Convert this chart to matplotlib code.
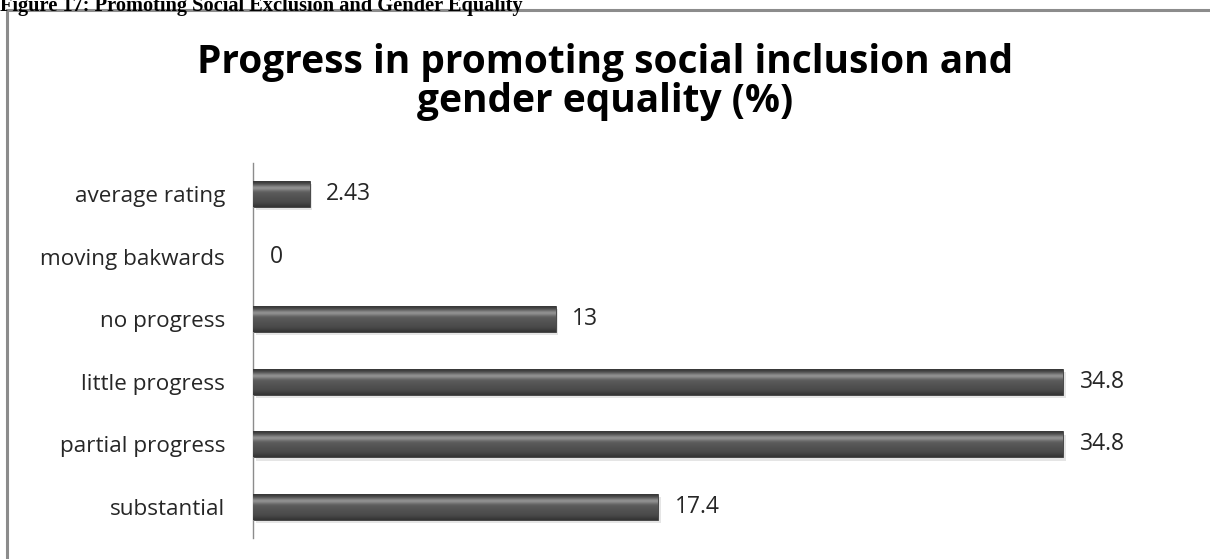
import numpy as np
import matplotlib
matplotlib.use("Agg")
import matplotlib.pyplot as plt
from matplotlib.patches import Rectangle

# ratings, listed bottom to top
categories = ["substantial", "partial progress", "little progress",
              "no progress", "moving bakwards", "average rating"]
values = [17.4, 34.8, 34.8, 13, 0, 2.43]
value_labels = ["17.4", "34.8", "34.8", "13", "0", "2.43"]

title = "Progress in promoting social inclusion and\ngender equality (%)"
caption = "Figure 17: Promoting Social Exclusion and Gender Equality"

W, H = 1210, 559
fig = plt.figure(figsize=(W / 100, H / 100), dpi=100)

# caption sits above the chart frame, partly clipped by the page edge
fig.text(0.0, 1 - 10.5 / H, caption, family="Liberation Serif", weight="bold",
         fontsize=14.7, ha="left", va="baseline")

frame = Rectangle((6.5 / W, -0.05), 1.2, 1 - 10 / H + 0.05,
                  transform=fig.transFigure, fill=False,
                  edgecolor="#8c8c8c", linewidth=2.2)
fig.add_artist(frame)

fig.text(0.5, 1 - 82 / H, title, family="Open Sans", weight="bold",
         fontsize=28, ha="center", va="center", linespacing=0.98)

ax = fig.add_axes([253 / W, 1 - 538.3 / H, 931 / W, (538.3 - 162.7) / H])
y = np.arange(len(categories))
bar_h = 0.415

# soft drop shadow
ax.barh(y - 0.05, values, height=bar_h, left=0.12, color="#000000",
        alpha=0.10, linewidth=0, zorder=1)
bars = ax.barh(y, values, height=bar_h, color="#555555",
               edgecolor="#3c3c3c", linewidth=0.6, zorder=2)

# vertical shading on each bar: light band near the top, darker bottom
grad = np.array([0.22, 0.27, 0.36, 0.48, 0.58, 0.55, 0.45, 0.38, 0.35,
                 0.34, 0.33, 0.32, 0.31, 0.30, 0.29, 0.27, 0.24, 0.21])
grad_img = np.tile(grad[:, None], (1, 2))
for bar in bars:
    w = bar.get_width()
    if w <= 0:
        continue
    x0, y0 = bar.get_x(), bar.get_y()
    im = ax.imshow(grad_img, cmap="gray", vmin=0, vmax=1, aspect="auto",
                   extent=(x0, x0 + w, y0, y0 + bar.get_height()),
                   origin="upper", interpolation="bicubic", zorder=3)
    im.set_clip_path(bar)

for yi, v, lab in zip(y, values, value_labels):
    ax.annotate(lab, (v, yi), xytext=(12, 0), textcoords="offset points",
                ha="left", va="center", family="Open Sans", fontsize=16.5,
                color="#262626")

ax.set_xlim(0, 40)
ax.set_ylim(-0.5, len(categories) - 0.5)
ax.set_yticks(y)
ax.set_yticklabels(categories, family="Open Sans", fontsize=16.2,
                   color="#262626")
ax.tick_params(axis="y", length=0, pad=20)
ax.set_xticks([])
for side in ["top", "right", "bottom"]:
    ax.spines[side].set_visible(False)
ax.spines["left"].set_color("#8c8c8c")
ax.spines["left"].set_linewidth(1.0)

fig.savefig("out.png", dpi=100)
